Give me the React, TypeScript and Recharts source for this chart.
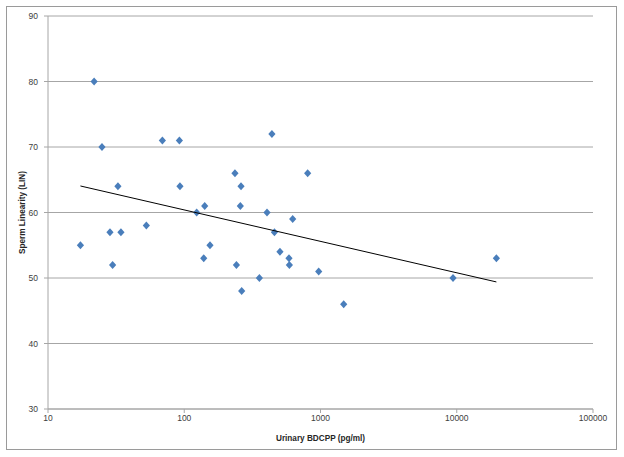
import React from 'react';
import { ScatterChart, Scatter, XAxis, YAxis, CartesianGrid } from 'recharts';

const bdcpp = [21.8, 24.9, 32.6, 28.5, 34.3, 52.7, 69.1, 92.1, 93, 123.4, 141.3, 235.6, 261, 258, 440, 405, 459, 625, 805,
  17.3, 29.8, 139, 154.5, 241.5, 264, 356, 504, 587, 591, 970, 1480, 9390, 19540];
const lin = [80, 70, 64, 57, 57, 58, 71, 71, 64, 60, 61, 66, 64, 61, 72, 60, 57, 59, 66,
  55, 52, 53, 55, 52, 48, 50, 54, 53, 52, 51, 46, 50, 53];

const trendX = [17.3, 19540];
const trendY = [64.05, 49.4];

const xTicks = [10, 100, 1000, 10000, 100000];
const yTicks = [30, 40, 50, 60, 70, 80, 90];

const points = bdcpp.map((x, i) => ({ x, y: lin[i] }));
const trend = trendX.map((x, i) => ({ x, y: trendY[i] }));

const Diamond = (props: any) => {
  const { cx, cy } = props;
  if (cx == null || cy == null) return null;
  return (
    <polygon
      points={`${cx},${cy - 4} ${cx + 3.6},${cy} ${cx},${cy + 4} ${cx - 3.6},${cy}`}
      fill="#4A7EBB"
    />
  );
};

const NoShape = () => null;

const tickStyle = { fontFamily: 'Liberation Sans, Arial, sans-serif', fontSize: 8.5, fill: '#404040' };

export default function App() {
  return (
    <div style={{ position: 'absolute', left: 0, top: 0, width: 624, height: 457, background: '#fff' }}>
      <div
        style={{
          position: 'absolute',
          left: 6,
          top: 6,
          width: 611,
          height: 444,
          border: '1px solid #9a9a9a',
          boxSizing: 'border-box',
        }}
      />
      <div style={{ position: 'absolute', left: 0, top: 0 }}>
        <ScatterChart width={624} height={457} margin={{ top: 16, right: 31, bottom: 0, left: 0 }}>
          <CartesianGrid vertical={false} stroke="#a6a6a6" strokeWidth={1} />
          <XAxis
            type="number"
            dataKey="x"
            scale="log"
            domain={[10, 100000]}
            ticks={xTicks}
            allowDataOverflow
            height={48}
            stroke="#a6a6a6"
            tickSize={4}
            tick={tickStyle}
            tickLine={{ stroke: '#a6a6a6' }}
            axisLine={{ stroke: '#a6a6a6' }}
            tickFormatter={(v: number) => String(v)}
            label={{
              value: 'Urinary BDCPP (pg/ml)',
              position: 'insideBottom',
              offset: 16,
              style: { fontFamily: 'Liberation Sans, Arial, sans-serif', fontSize: 8.2, fontWeight: 'bold', fill: '#262626' },
            }}
          />
          <YAxis
            type="number"
            dataKey="y"
            domain={[30, 90]}
            ticks={yTicks}
            width={48}
            stroke="#a6a6a6"
            tickSize={4}
            tickMargin={6}
            tick={tickStyle}
            tickLine={{ stroke: '#a6a6a6' }}
            axisLine={{ stroke: '#a6a6a6' }}
            label={{
              value: 'Sperm Linearity (LIN)',
              angle: -90,
              position: 'insideLeft',
              offset: 22,
              style: { textAnchor: 'middle', fontFamily: 'Liberation Sans, Arial, sans-serif', fontSize: 8.2, fontWeight: 'bold', fill: '#262626' },
            }}
          />
          <Scatter data={points} shape={Diamond} isAnimationActive={false} />
          <Scatter
            data={trend}
            line={{ stroke: '#000000', strokeWidth: 1 }}
            shape={NoShape}
            isAnimationActive={false}
          />
        </ScatterChart>
      </div>
    </div>
  );
}
